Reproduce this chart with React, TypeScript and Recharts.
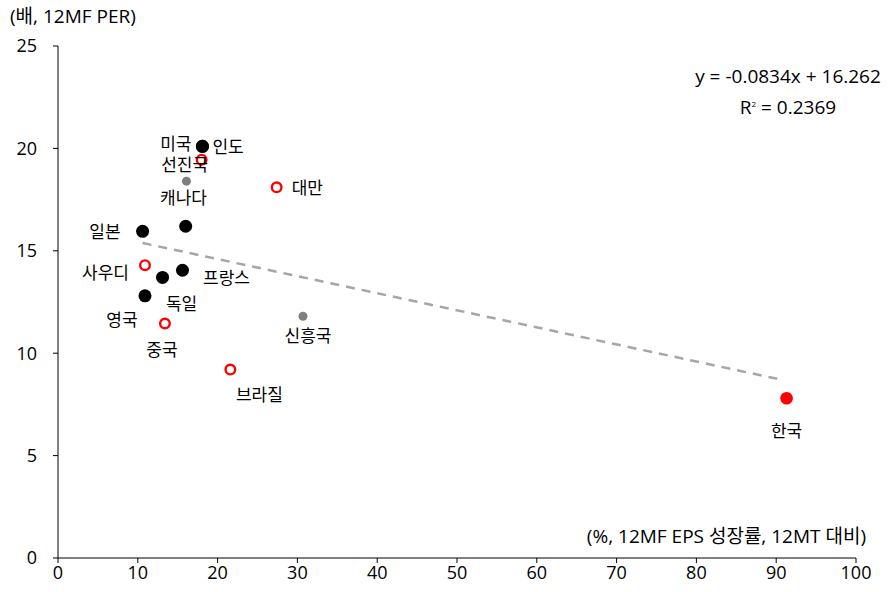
import { ScatterChart, Scatter, XAxis, YAxis } from 'recharts';

// 12MF EPS growth (%, vs 12MT) and 12MF PER
const blackPoints = [
  { name: '미국', x: 18.1, y: 20.1 },
  { name: '인도', x: 18.1, y: 20.1 },
  { name: '', x: 16.0, y: 16.2 },
  { name: '일본', x: 10.6, y: 15.95 },
  { name: '프랑스', x: 15.6, y: 14.05 },
  { name: '독일', x: 13.1, y: 13.7 },
  { name: '영국', x: 10.9, y: 12.8 },
];
const redOpenPoints = [
  { name: '선진국', x: 18.0, y: 19.45 },
  { name: '대만', x: 27.4, y: 18.1 },
  { name: '사우디', x: 10.9, y: 14.3 },
  { name: '중국', x: 13.4, y: 11.45 },
  { name: '브라질', x: 21.6, y: 9.2 },
];
const grayPoints = [
  { name: '캐나다', x: 16.1, y: 18.4 },
  { name: '신흥국', x: 30.7, y: 11.8 },
];
const koreaPoints = [{ name: '한국', x: 91.3, y: 7.8 }];

// linear trend end points
const trendPoints = [
  { x: 10.6, y: 15.38 },
  { x: 90.6, y: 8.71 },
];

const xTicks = [0, 10, 20, 30, 40, 50, 60, 70, 80, 90, 100];
const yTicks = [0, 5, 10, 15, 20, 25];

// label placement relative to the dot
const labelPlace: Record<string, { dx: number; dy: number; anchor: string }> = {
  '미국': { dx: -11, dy: -3, anchor: 'end' },
  '인도': { dx: 10, dy: 0, anchor: 'start' },
  '선진국': { dx: -17, dy: 5, anchor: 'middle' },
  '캐나다': { dx: -3, dy: 16, anchor: 'middle' },
  '대만': { dx: 15, dy: 0, anchor: 'start' },
  '일본': { dx: -22, dy: 0, anchor: 'end' },
  '사우디': { dx: -16, dy: 7, anchor: 'end' },
  '프랑스': { dx: 44, dy: 7, anchor: 'middle' },
  '독일': { dx: 19, dy: 26, anchor: 'middle' },
  '영국': { dx: -23, dy: 24, anchor: 'middle' },
  '중국': { dx: -3, dy: 26, anchor: 'middle' },
  '신흥국': { dx: 5, dy: 19, anchor: 'middle' },
  '브라질': { dx: 29, dy: 25, anchor: 'middle' },
  '한국': { dx: 0, dy: 32, anchor: 'middle' },
};

const FONT = "'Open Sans', 'Noto Sans CJK KR', sans-serif";

const makeShape = (r: number, fill: string, stroke: string, strokeWidth: number) =>
  (props: any) => {
    const { cx, cy, payload } = props;
    const place = labelPlace[payload.name];
    return (
      <g>
        <circle cx={cx} cy={cy} r={r} fill={fill} stroke={stroke} strokeWidth={strokeWidth} />
        {place && (
          <text
            x={cx + place.dx}
            y={cy + place.dy}
            textAnchor={place.anchor}
            dominantBaseline="central"
            fontSize={17}
            fontFamily={FONT}
            fill="#000"
          >
            {payload.name}
          </text>
        )}
      </g>
    );
  };

const tickStyle = { fontSize: 18, fill: '#000', fontFamily: FONT };

export default function App() {
  return (
    <div style={{ position: 'absolute', left: 0, top: 0, width: 890, height: 592, background: '#fff', fontFamily: FONT }}>
      <ScatterChart width={890} height={592} margin={{ top: 46, right: 34, bottom: 0, left: 0 }}>
        <XAxis
          type="number"
          dataKey="x"
          domain={[0, 100]}
          ticks={xTicks}
          height={34}
          stroke="#000"
          tickSize={5}
          tickMargin={3}
          tick={tickStyle}
          interval={0}
        />
        <YAxis
          type="number"
          dataKey="y"
          domain={[0, 25]}
          ticks={yTicks}
          width={58}
          stroke="#000"
          tickSize={5}
          tickMargin={16}
          tick={tickStyle}
          interval={0}
        />
        <Scatter
          data={trendPoints}
          line={{ stroke: '#A6A6A6', strokeWidth: 2.5, strokeDasharray: '9 7' }}
          shape={() => <g />}
          isAnimationActive={false}
        />
        <Scatter data={grayPoints} shape={makeShape(4.5, '#7F7F7F', 'none', 0)} isAnimationActive={false} />
        <Scatter data={blackPoints} shape={makeShape(6.5, '#000', 'none', 0)} isAnimationActive={false} />
        <Scatter data={redOpenPoints} shape={makeShape(4.8, '#fff', '#FF0000', 2.4)} isAnimationActive={false} />
        <Scatter data={koreaPoints} shape={makeShape(6.3, '#FF0000', 'none', 0)} isAnimationActive={false} />
      </ScatterChart>
      <div style={{ position: 'absolute', left: 10, top: 3, fontSize: 19, lineHeight: '26px', color: '#000' }}>(배, 12MF PER)</div>
      <div style={{ position: 'absolute', right: 24, top: 523, fontSize: 19, lineHeight: '26px', color: '#000' }}>
        (%, 12MF EPS 성장률, 12MT 대비)
      </div>
      <div style={{ position: 'absolute', left: 678, width: 220, top: 63, fontSize: 19, color: '#000', textAlign: 'center', lineHeight: '27px' }}>
        <div>y = -0.0834x + 16.262</div>
        <div>
          R<sup style={{ fontSize: 8 }}>2</sup> = 0.2369
        </div>
      </div>
    </div>
  );
}
